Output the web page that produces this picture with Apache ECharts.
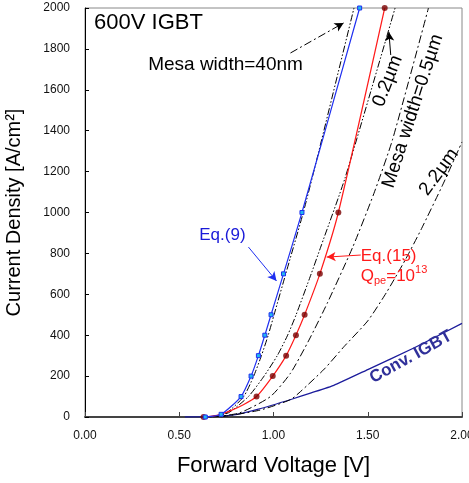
<!DOCTYPE html>
<html>
<head>
<meta charset="utf-8">
<script src="https://cdn.jsdelivr.net/npm/echarts@6/dist/echarts.min.js"></script>
<style>
  html, body { margin: 0; padding: 0; background: #fff; }
  #chart { width: 469px; height: 483px; }
</style>
</head>
<body>
<div id="chart"></div>
<script>
// forward voltage [V], current density [A/cm2]
const eq9 = [[0.638, 0], [0.722, 13], [0.828, 100], [0.881, 200], [0.920, 300], [0.954, 400],
  [0.987, 500], [1.053, 700], [1.151, 1000], [1.457, 2000]];
const eq15Marks = [[0.629, 0], [0.910, 100], [0.996, 200], [1.067, 300], [1.119, 400],
  [1.165, 500], [1.246, 700], [1.344, 1000], [1.590, 2000]];
const eq15Curve = [[0.629, 0], [0.70, 8], [0.77, 30], [0.84, 60], [0.910, 100], [0.996, 200],
  [1.067, 300], [1.119, 400], [1.165, 500], [1.246, 700], [1.344, 1000], [1.590, 2000]];
const mesa40nm = [[0.66, 0], [0.75, 20], [0.842, 100], [0.895, 200], [0.936, 300], [0.972, 400],
  [1.003, 500], [1.065, 700], [1.158, 1000], [1.229, 1257], [1.427, 2000]];
const mesa02 = [[0.665, 0], [0.76, 20], [0.867, 100], [0.95, 200], [1.02, 300], [1.075, 400],
  [1.12, 500], [1.20, 700], [1.25, 830], [1.38, 1170], [1.645, 2000]];
const mesa05 = [[0.68, 0], [0.82, 20], [0.984, 100], [1.09, 214], [1.188, 376], [1.285, 556],
  [1.42, 830], [1.533, 1094], [1.631, 1355], [1.822, 2000]];
const mesa22 = [[0.72, 0], [0.93, 34], [1.09, 85], [1.144, 125], [1.27, 235], [1.374, 344],
  [1.50, 470], [1.60, 610], [1.70, 770], [1.782, 915], [1.90, 1140], [2.0, 1345]];
const convIgbt = [[0.53, 0], [0.70, 3], [0.80, 12], [0.92, 38], [1.10, 88], [1.20, 118],
  [1.32, 155], [1.50, 232], [1.75, 340], [2.0, 458]];
const xTicks = ['0.00', '0.50', '1.00', '1.50', '2.00'];

const font = 'Liberation Sans, Arial, sans-serif';
const dashDot = [8, 3, 2, 3];
const dashDotDot = [7, 2, 1.5, 2, 1.5, 2];

const chart = echarts.init(document.getElementById('chart'));

function dashLine(name, data, dash) {
  return {
    name: name, type: 'line', data: data, smooth: 0.2,
    showSymbol: false, symbol: 'none',
    lineStyle: { color: '#000', width: 1, type: dash }, z: 2
  };
}

function arrow(from, to, color, type) {
  return [
    { coord: from, lineStyle: { color: color, width: 1, type: type } },
    { coord: to }
  ];
}

chart.setOption({
  animation: false,
  grid: {
    left: 85, right: 7, top: 8, bottom: 66, outerBoundsMode: 'none', containLabel: false,
    show: true, borderColor: '#888', borderWidth: 1
  },
  xAxis: {
    type: 'value', min: 0, max: 2, interval: 0.5,
    name: 'Forward Voltage [V]', nameLocation: 'middle', nameGap: 38,
    nameTextStyle: { fontSize: 22, color: '#000', fontFamily: font },
    axisLine: { lineStyle: { color: '#444', width: 2 } },
    axisTick: { inside: true, length: 5, lineStyle: { color: '#444' } },
    axisLabel: { margin: 13, fontSize: 12, color: '#111', fontFamily: font,
      formatter: v => xTicks[Math.round(v / 0.5)] },
    splitLine: { show: false }
  },
  yAxis: {
    type: 'value', min: 0, max: 2000, interval: 200,
    name: 'Current Density [A/cm²]', nameLocation: 'middle', nameGap: 61,
    nameTextStyle: { fontSize: 20, color: '#000', fontFamily: font },
    axisLine: { show: true, lineStyle: { color: '#000', width: 1 } },
    axisTick: { show: true, inside: true, length: 4, lineStyle: { color: '#000' } },
    axisLabel: { margin: 15, fontSize: 12, color: '#111', fontFamily: font,
      formatter: v => String(v) },
    splitLine: { show: false }
  },
  series: [
    {
      name: 'Conv. IGBT', type: 'line', data: convIgbt, smooth: 0.15, symbol: 'none',
      lineStyle: { color: '#1c1c9c', width: 1.3 }, z: 2
    },
    dashLine('2.2um', mesa22, dashDot),
    dashLine('0.5um', mesa05, dashDot),
    Object.assign(dashLine('0.2um', mesa02, dashDotDot), {
      markLine: {
        silent: true, symbol: ['none', 'arrow'], symbolSize: [7, 9], label: { show: false },
        data: [arrow([1.622, 1770], [1.612, 1883], '#000', 'solid')]
      }
    }),
    Object.assign(dashLine('40nm', mesa40nm, dashDotDot), {
      markLine: {
        silent: true, symbol: ['none', 'arrow'], symbolSize: [7, 9], label: { show: false },
        data: [arrow([1.090, 1780], [1.372, 1927], '#000', dashDot)]
      }
    }),
    {
      name: 'Eq.(15)', type: 'line', data: eq15Curve, smooth: 0.2,
      symbol: 'none', lineStyle: { color: '#ff1a1a', width: 1.2 }, z: 3,
      markLine: {
        silent: true, symbol: ['none', 'arrow'], symbolSize: [7, 9], label: { show: false },
        data: [arrow([1.463, 792], [1.282, 782], '#ff1a1a', 'solid')]
      }
    },
    {
      name: 'Eq.(15) pts', type: 'scatter', data: eq15Marks, symbol: 'circle', symbolSize: 6,
      itemStyle: { color: '#7a0000' }, z: 4
    },
    {
      name: 'Eq.(9)', type: 'line', data: eq9, smooth: 0.2,
      symbol: 'rect', symbolSize: 4, showSymbol: true,
      lineStyle: { color: '#1f2ff0', width: 1.2 },
      itemStyle: { color: '#22b8f0', borderColor: '#1f2ff0', borderWidth: 1 }, z: 5,
      markLine: {
        silent: true, symbol: ['none', 'arrow'], symbolSize: [7, 9], label: { show: false },
        data: [arrow([0.867, 831], [1.016, 665], '#1f2ff0', 'solid')]
      }
    }
  ]
});

// text annotations placed from data coordinates
const deg = Math.PI / 180;
function txt(at, text, size, color, opts) {
  const p = chart.convertToPixel({ gridIndex: 0 }, at);
  return Object.assign({
    type: 'text', x: p[0], y: p[1], z: 10,
    style: Object.assign({
      text: text, fill: color, fontSize: size, fontFamily: font,
      align: 'center', verticalAlign: 'middle'
    }, (opts && opts.style) || {})
  }, (opts && opts.el) || {});
}

chart.setOption({
  graphic: [
    txt([0.048, 1927], '600V IGBT', 22, '#000', { style: { align: 'left' } }),
    txt([0.335, 1721], 'Mesa width=40nm', 19, '#000', { style: { align: 'left' } }),
    txt([1.606, 1643], '0.2µm', 19, '#000', { el: { rotation: 69 * deg } }),
    txt([1.739, 1496], 'Mesa width=0.5µm', 19, '#000', { el: { rotation: 72 * deg } }),
    txt([1.878, 1198], '2.2µm', 19, '#000', { el: { rotation: 54 * deg } }),
    txt([0.729, 890], 'Eq.(9)', 17, '#1a1ad8'),
    txt([1.463, 787], 'Eq.(15)', 17, '#ff1a1a', { style: { align: 'left' } }),
    txt([1.463, 690], '{a|Q}{b|pe}{a|=10}{c|13}', 17, '#ff1a1a', {
      style: {
        align: 'left',
        rich: {
          a: { fontSize: 17, lineHeight: 22, fill: '#ff1a1a', fontFamily: font },
          b: { fontSize: 11, lineHeight: 11, verticalAlign: 'bottom', fill: '#ff1a1a', fontFamily: font },
          c: { fontSize: 11, lineHeight: 11, verticalAlign: 'top', fill: '#ff1a1a', fontFamily: font }
        }
      }
    }),
    txt([1.729, 293], 'Conv. IGBT', 17, '#30309a', {
      style: { fontWeight: 'bold' }, el: { rotation: 29 * deg }
    })
  ]
});
</script>
</body>
</html>
